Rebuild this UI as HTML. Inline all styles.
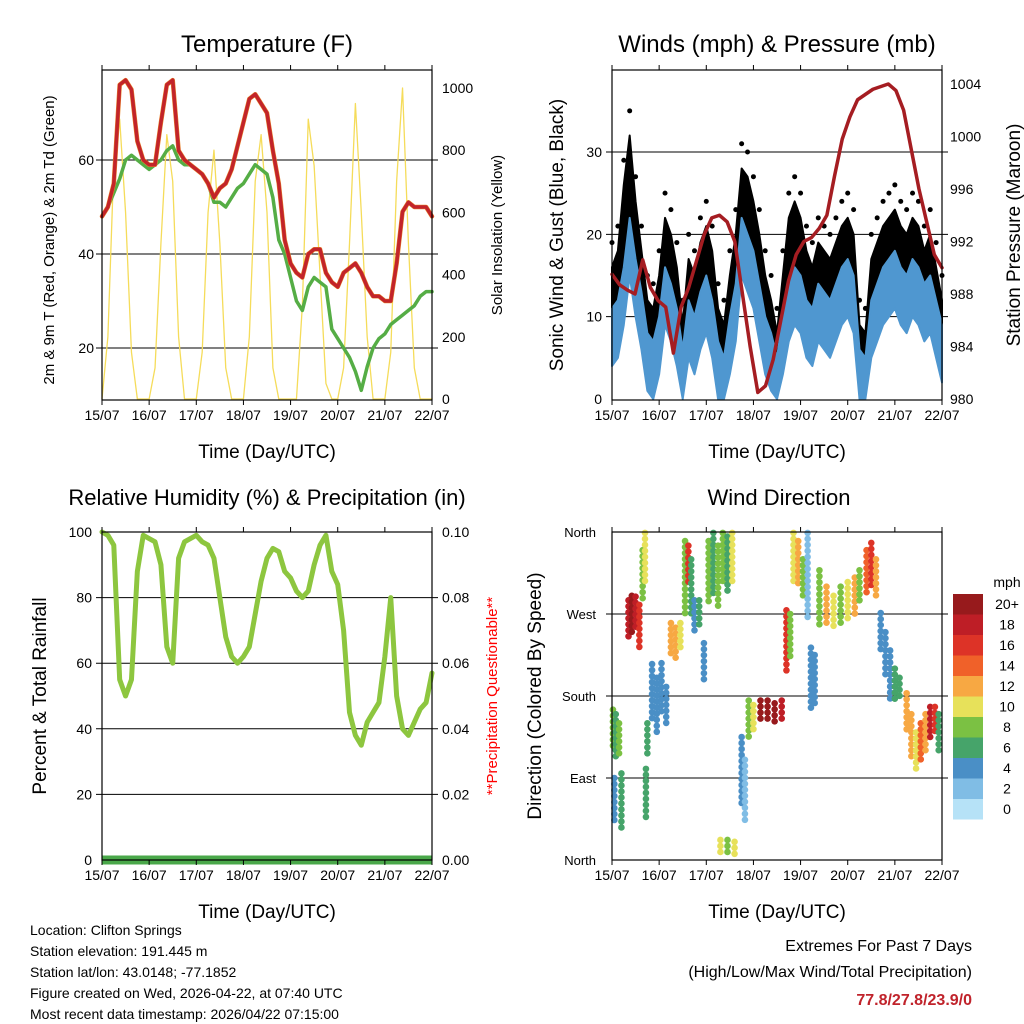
<!DOCTYPE html>
<html><head><meta charset="utf-8"><style>
body{margin:0;background:#fff;}
svg{display:block;font-family:"Liberation Sans",sans-serif;}
</style></head><body>
<svg id="s" width="1024" height="1024" viewBox="0 0 1024 1024" xmlns="http://www.w3.org/2000/svg"></svg>
<script>
// ---- data ----
const dayLabels=["15/07","16/07","17/07","18/07","19/07","20/07","21/07","22/07"];
const tempT=[48,50,55,76,77,75,64,60,59,59,68,76,77,62,60,59,58,57,55,52,54,55,58,63,68,73,74,72,70,62,55,43,38,36,35,40,41,41,36,34,33,36,37,38,36,33,31,31,30,30,38,49,51,50,50,50,48];
const tempTd=[48,50,53,56,60,61,60,59,58,59,60,62,63,60,59,59,58,57,55,51,51,50,52,54,55,57,59,58,57,52,43,40,35,30,28,33,35,34,33,24,22,20,18,15,11,16,20,22,23,25,26,27,28,29,31,32,32];
const solar=[0,200,750,900,600,150,0,0, 0,100,500,850,700,200,0,0, 0,150,600,800,500,100,0,0, 0,200,700,850,600,100,0,0, 0,0,300,900,750,400,50,0, 0,100,500,950,600,200,0,0, 0,150,700,1000,500,100,0,0,0];
const windS=[9,10,14,20,15,11,6,5,8,14,12,9,4,10,8,11,13,10,5,3,8,12,20,18,16,12,8,6,3,8,12,14,13,10,9,12,11,10,12,14,15,13,4,3,10,12,14,15,16,14,13,15,14,12,13,10,7];
const gustS=[16,18,26,32,24,18,12,11,15,22,20,16,9,17,15,19,21,18,11,9,15,20,28,27,24,20,15,12,8,15,22,24,22,18,16,19,18,17,19,21,22,20,9,8,17,19,21,22,23,21,20,22,21,18,20,16,12];
const pres=[989.5,988.7,988.3,988,990.6,988.5,987.5,987,983.5,987,988.5,990.5,992.5,993.8,994,993.5,992,988,984,980.5,981,983,986,989,991,992,992.3,993,994,997,999.8,1001.5,1002.8,1003.2,1003.6,1003.8,1004,1003.5,1002,999,996,993.5,991,990];
const rh=[100,99,96,55,50,55,88,99,98,97,90,65,60,92,97,98,99,97,96,92,80,68,62,60,62,65,75,85,92,95,94,88,86,82,80,82,90,96,99,88,84,70,45,38,35,42,45,48,62,80,50,40,38,42,46,48,57];
const wdT=  [0.02,0.08,0.15,0.05,0.2,0.35,0.42,0.5,0.58,0.65,0.7,0.72,0.75,0.85,0.95,1.05,1.15,1.25,1.35,1.45,1.55,1.62,1.68,1.75,1.85,1.95,2.05,2.15,2.25,2.35,2.45,2.55,2.3,2.45,2.6,2.75,2.82,2.9,3.0,3.15,3.3,3.45,3.6,3.7,3.78,3.85,3.95,4.05,4.15,4.22,4.3,4.4,4.55,4.7,4.85,5.0,5.15,5.25,5.4,5.5,5.6,5.7,5.8,5.9,6.0,6.1,6.25,6.35,6.45,6.55,6.65,6.75,6.85,6.93];
const wdLo= [120,110,115,40,30,240,245,250,234,285,300,45,115,150,140,160,145,225,220,230,265,300,265,250,255,194,280,290,278,300,290,300,3,3,5,60,44,131,140,150,150,150,155,205,220,300,300,290,263,161,170,256,260,256,260,265,270,280,290,300,289,230,200,176,176,176,140,110,99,110,120,131,140,120];
const wdHi= [165,160,150,90,95,285,290,289,280,340,359,100,150,215,200,216,190,260,255,260,350,345,330,285,285,238,350,359,345,359,355,359,22,22,20,135,110,175,170,175,175,172,175,274,270,359,350,330,359,233,225,318,300,290,300,305,310,318,340,348,330,271,250,230,210,200,183,160,140,150,160,168,168,160];
const wdSpd=[8,7,8,4,6,18,20,18,16,8,10,6,6,4,4,4,4,12,12,10,8,16,6,4,6,4,8,6,8,8,6,10,10,8,10,4,2,8,10,20,20,20,18,16,8,10,12,8,3,4,4,8,12,10,8,10,12,8,14,16,12,4,4,4,6,6,12,12,10,14,12,18,16,6];
const cbLabels=["20+","18","16","14","12","10","8","6","4","2","0"];
const cbColors=["#971a1c","#be1e26","#dd3327","#f06129","#f7a843","#e7e15a","#7bc143","#46a46a","#4a8fc6","#80bde5","#b6e2f7"];
const leftLines=["Location: Clifton Springs","Station elevation: 191.445 m","Station lat/lon: 43.0148; -77.1852","Figure created on Wed, 2026-04-22, at 07:40 UTC","Most recent data timestamp: 2026/04/22 07:15:00"];

// ---- helpers ----
const S=document.getElementById('s');const NS="http://www.w3.org/2000/svg";
function el(tag,at,txt){const e=document.createElementNS(NS,tag);for(const k in at)e.setAttribute(k,at[k]);if(txt!==undefined)e.textContent=txt;S.appendChild(e);return e;}
function lin(d0,d1,r0,r1){return v=>r0+(v-d0)/(d1-d0)*(r1-r0);}
function txt(x,y,s,size,opt){opt=opt||{};const a={x:x,y:y,'font-size':size,'text-anchor':opt.anchor||'middle',fill:opt.fill||'#000'};if(opt.rot)a.transform=`rotate(${opt.rot} ${x} ${y})`;if(opt.weight)a['font-weight']=opt.weight;const t=el('text',a,s);return t;}
function frame(x0,y0,x1,y1,name){const r=el('rect',{x:x0,y:y0,width:x1-x0,height:y1-y0,fill:'none',stroke:'#000','stroke-width':1.2});
 const X=lin(0,7,x0,x1);for(let i=0;i<8;i++){const x=X(i);const tk=el('line',{x1:x,x2:x,y1:y1,y2:y1+5,stroke:'#000'});const tk2=el('line',{x1:x,x2:x,y1:y0,y2:y0-5,stroke:'#000'});txt(x,y1+20,dayLabels[i],14,{name:'x-tick-label'});}
 txt((x0+x1)/2,y1+58,"Time (Day/UTC)",19,{name:'x-axis-title'});}
function hgrid(x0,x1,y,name){const l=el('line',{x1:x0-6,x2:x1+6,y1:y,y2:y,stroke:'#000','stroke-width':1});}
function poly(pts,stroke,w,name){const p=el('polyline',{points:pts.map(p=>p.join(',')).join(' '),fill:'none',stroke:stroke,'stroke-width':w,'stroke-linejoin':'round','stroke-linecap':'round'});return p;}
function band(top,bot,fill,name){const pts=top.concat(bot.slice().reverse());const p=el('polygon',{points:pts.map(p=>p.join(',')).join(' '),fill:fill,stroke:fill,'stroke-width':2,'stroke-linejoin':'round'});return p;}

// ---- panel 1 temperature ----
{const x0=102,x1=432,y0=70,y1=400;const X=lin(0,56,x0,x1);const Y=lin(20,60,348,160);const Ys=lin(0,1000,399,88);
 [20,40,60].forEach(v=>{hgrid(x0,x1,Y(v),'temp-gridline');txt(x0-8,Y(v)+5,String(v),14,{anchor:'end',name:'y-tick-label'});});
 [0,200,400,600,800,1000].forEach(v=>txt(x1+10,Ys(v)+5,String(v),14,{anchor:'start',name:'solar-tick-label'}));
 poly(solar.map((v,i)=>[X(i),Ys(v)]),'#f5dc5a',1.3,'solar-insolation-line');
 poly(tempTd.map((v,i)=>[X(i),Y(v)]),'#55ad45',3.5,'dewpoint-line');
 poly(tempT.map((v,i)=>[X(i),Y(v)]),'#e9852b',4.5,'temp-9m-line');
 poly(tempT.map((v,i)=>[X(i),Y(v)]),'#c2242a',3.5,'temp-2m-line');
 frame(x0,y0,x1,y1,'temperature-plot');
 txt(267,52,"Temperature (F)",24,{name:'temperature-title'});
 txt(54,240,"2m & 9m T (Red, Orange) & 2m Td (Green)",15,{rot:-90,name:'temp-y-title'});
 txt(502,235,"Solar Insolation (Yellow)",15,{rot:-90,name:'solar-y-title'});}

// ---- panel 2 winds ----
{const x0=612,x1=942,y0=70,y1=400;const X=lin(0,56,x0,x1);const Xp=lin(0,43,x0,x1);const Y=lin(0,30,399,152);const Yp=lin(980,1004,399,84);
 [10,20,30].forEach(v=>hgrid(x0,x1,Y(v),'wind-gridline'));
 [0,10,20,30].forEach(v=>txt(x0-10,Y(v)+5,String(v),14,{anchor:'end',name:'wind-tick-label'}));
 [980,984,988,992,996,1000,1004].forEach(v=>txt(x1+8,Yp(v)+5,String(v),14,{anchor:'start',name:'pressure-tick-label'}));
 band(gustS.map((v,i)=>[X(i),Y(v)]),windS.map((v,i)=>[X(i),Y(v)]),'#000','gust-band');
 gustS.forEach((v,i)=>{const c=el('circle',{cx:X(i),cy:Y(v+3),r:2.5,fill:'#000'});});
 band(windS.map((v,i)=>[X(i),Y(v+2)]),windS.map((v,i)=>[X(i),Y(Math.max(0,v-5))]),'#4f97d0','wind-band');
 poly(pres.map((v,i)=>[Xp(i),Yp(v)]),'#a51d22',3.5,'pressure-line');
 frame(x0,y0,x1,y1,'winds-plot');
 txt(777,52,"Winds (mph) & Pressure (mb)",24,{name:'winds-title'});
 txt(563,235,"Sonic Wind & Gust (Blue, Black)",19,{rot:-90,name:'wind-y-title'});
 txt(1020,235,"Station Pressure (Maroon)",19,{rot:-90,name:'pressure-y-title'});}

// ---- panel 3 RH ----
{const x0=102,x1=432,y0=532,y1=860;const X=lin(0,56,x0,x1);const Y=lin(0,100,860,532);
 [20,40,60,80].forEach(v=>hgrid(x0,x1,Y(v),'rh-gridline'));
 [0,20,40,60,80,100].forEach(v=>{txt(x0-10,Y(v)+5,String(v),14,{anchor:'end',name:'rh-tick-label'});txt(x1+10,Y(v)+5,(v/1000).toFixed(2),14,{anchor:'start',name:'precip-tick-label'});});
 poly(rh.map((v,i)=>[X(i),Y(v)]),'#8dc63f',5,'rh-line');
 const pr=el('line',{x1:x0,x2:x1,y1:Y(0),y2:Y(0),stroke:'#4aa84a','stroke-width':9});
 frame(x0,y0,x1,y1,'rh-plot');
 txt(267,505,"Relative Humidity (%) & Precipitation (in)",22,{name:'rh-title'});
 txt(46,696,"Percent & Total Rainfall",19,{rot:-90,name:'rh-y-title'});
 txt(497,696,"**Precipitation Questionable**",15,{rot:-90,fill:'#ff0000',name:'precip-warning'});}

// ---- panel 4 wind direction ----
{const x0=612,x1=942,y0=532,y1=860;const X=lin(0,7,x0,x1);const Y=lin(0,360,860,532);
 [90,180,270].forEach(v=>hgrid(x0,x1,Y(v),'direction-gridline'));
 ["North","East","South","West","North"].forEach((s,i)=>txt(x0-16,Y(i*90)+5,s,13,{anchor:'end',name:'direction-tick-label'}));
 const col=s=>cbColors[10-Math.min(10,Math.floor(s/2))];
 wdT.forEach((t,i)=>{const yA=Y(wdHi[i]),yB=Y(wdLo[i]);for(let y=yA;y<=yB+0.1;y+=6){const c=el('circle',{cx:X(t),cy:y,r:3.3,fill:col(wdSpd[i])});}});
 frame(x0,y0,x1,y1,'direction-plot');
 txt(779,505,"Wind Direction",22,{name:'direction-title'});
 txt(541,696,"Direction (Colored By Speed)",19,{rot:-90,name:'direction-y-title'});
 txt(1007,587,"mph",14,{name:'colorbar-title'});
 cbColors.forEach((c,i)=>{const r=el('rect',{x:953,y:594+i*20.5,width:30,height:20.5,fill:c});txt(1007,609+i*20.5,cbLabels[i],14,{name:'colorbar-label'});});}

// ---- footer ----
leftLines.forEach((s,i)=>txt(30,935+i*21,s,14,{anchor:'start',name:'station-info'}));
txt(972,951,"Extremes For Past 7 Days",16,{anchor:'end',name:'extremes-title'});
txt(972,977,"(High/Low/Max Wind/Total Precipitation)",16,{anchor:'end',name:'extremes-subtitle'});
txt(972,1005,"77.8/27.8/23.9/0",16,{anchor:'end',fill:'#c0232b',weight:'bold',name:'extremes-values'});
</script>
</body></html>
